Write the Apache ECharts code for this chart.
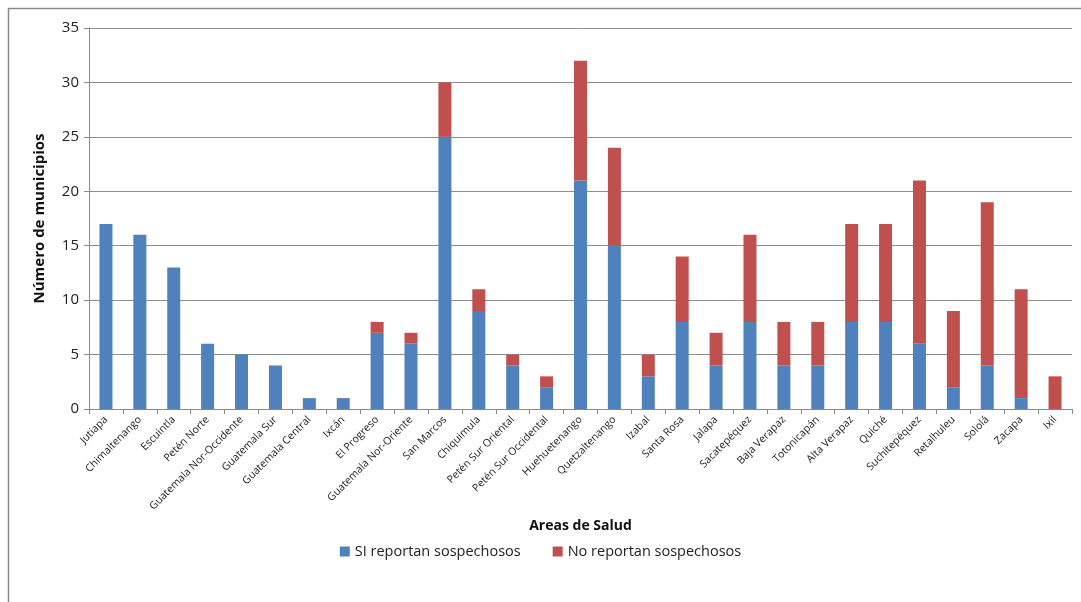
<!DOCTYPE html>
<html>
<head>
<meta charset="utf-8">
<script src="https://cdn.jsdelivr.net/npm/echarts@6/dist/echarts.min.js"></script>
<style>
  html, body { margin: 0; padding: 0; background: #fff; }
  #chart { width: 1081px; height: 602px; }
</style>
</head>
<body>
<div id="chart"></div>
<script>
// Áreas de Salud (eje de categorías)
const areas = [
  'Jutiapa', 'Chimaltenango', 'Escuintla', 'Petén Norte', 'Guatemala Nor-Occidente',
  'Guatemala Sur', 'Guatemala Central', 'Ixcán', 'El Progreso', 'Guatemala Nor-Oriente',
  'San Marcos', 'Chiquimula', 'Petén Sur Oriental', 'Petén Sur Occidental', 'Huehuetenango',
  'Quetzaltenango', 'Izabal', 'Santa Rosa', 'Jalapa', 'Sacatepéquez',
  'Baja Verapaz', 'Totonicapán', 'Alta Verapaz', 'Quiché', 'Suchitepéquez',
  'Retalhuleu', 'Sololá', 'Zacapa', 'Ixil'
];

// Municipios que sí reportan sospechosos
const siReportan = [
  17, 16, 13, 6, 5,
  4, 1, 1, 7, 6,
  25, 9, 4, 2, 21,
  15, 3, 8, 4, 8,
  4, 4, 8, 8, 6,
  2, 4, 1, 0
];

// Municipios que no reportan sospechosos
const noReportan = [
  0, 0, 0, 0, 0,
  0, 0, 0, 1, 1,
  5, 2, 1, 1, 11,
  9, 2, 6, 3, 8,
  4, 4, 9, 9, 15,
  7, 15, 10, 3
];

const seriesNames = ['SI reportan sospechosos', 'No reportan sospechosos'];
const yTicks = { min: 0, max: 35, interval: 5 };

const FONT = '"Open Sans", "Liberation Sans", sans-serif';
const chart = echarts.init(document.getElementById('chart'), null, { renderer: 'canvas' });

chart.setOption({
  animation: false,
  backgroundColor: '#ffffff',
  textStyle: { fontFamily: FONT },
  graphic: [
    {
      type: 'rect',
      shape: { x: 8.5, y: 8.5, width: 1100, height: 620 },
      style: { fill: 'none', stroke: '#8a8a8a', lineWidth: 1.5 },
      silent: true
    }
  ],
  grid: { left: 89, right: 9, top: 28, bottom: 193, containLabel: false },
  legend: {
    bottom: 38,
    left: 'center',
    itemWidth: 10,
    itemHeight: 10,
    itemGap: 32,
    icon: 'rect',
    textStyle: { fontFamily: FONT, fontSize: 14.5, color: '#222' },
    data: seriesNames
  },
  xAxis: {
    type: 'category',
    data: areas,
    name: 'Areas de Salud',
    nameLocation: 'middle',
    nameGap: 85,
    nameTextStyle: { fontFamily: FONT, fontSize: 14, fontWeight: 'bold', color: '#111' },
    axisLine: { lineStyle: { color: '#8a8a8a', width: 1 } },
    axisTick: { show: true, length: 5, lineStyle: { color: '#8a8a8a' } },
    axisLabel: {
      rotate: 45,
      interval: 0,
      fontSize: 10.5,
      color: '#222',
      fontFamily: FONT,
      margin: 9
    }
  },
  yAxis: {
    type: 'value',
    min: yTicks.min,
    max: yTicks.max,
    interval: yTicks.interval,
    name: 'Número de municipios',
    nameLocation: 'middle',
    nameGap: 42,
    nameTextStyle: { fontFamily: FONT, fontSize: 15, fontWeight: 'bold', color: '#111' },
    axisLine: { show: true, lineStyle: { color: '#8a8a8a', width: 1 } },
    axisTick: { show: true, inside: false, length: 5, lineStyle: { color: '#8a8a8a' } },
    axisLabel: { fontSize: 15, color: '#222', fontFamily: FONT, margin: 10 },
    splitLine: { show: true, lineStyle: { color: '#8f8f8f', width: 1 } }
  },
  series: [
    {
      name: seriesNames[0],
      type: 'bar',
      stack: 'total',
      barWidth: 13,
      itemStyle: { color: '#4F81BD' },
      data: siReportan
    },
    {
      name: seriesNames[1],
      type: 'bar',
      stack: 'total',
      barWidth: 13,
      itemStyle: { color: '#C0504D' },
      data: noReportan
    }
  ]
});
</script>
</body>
</html>
